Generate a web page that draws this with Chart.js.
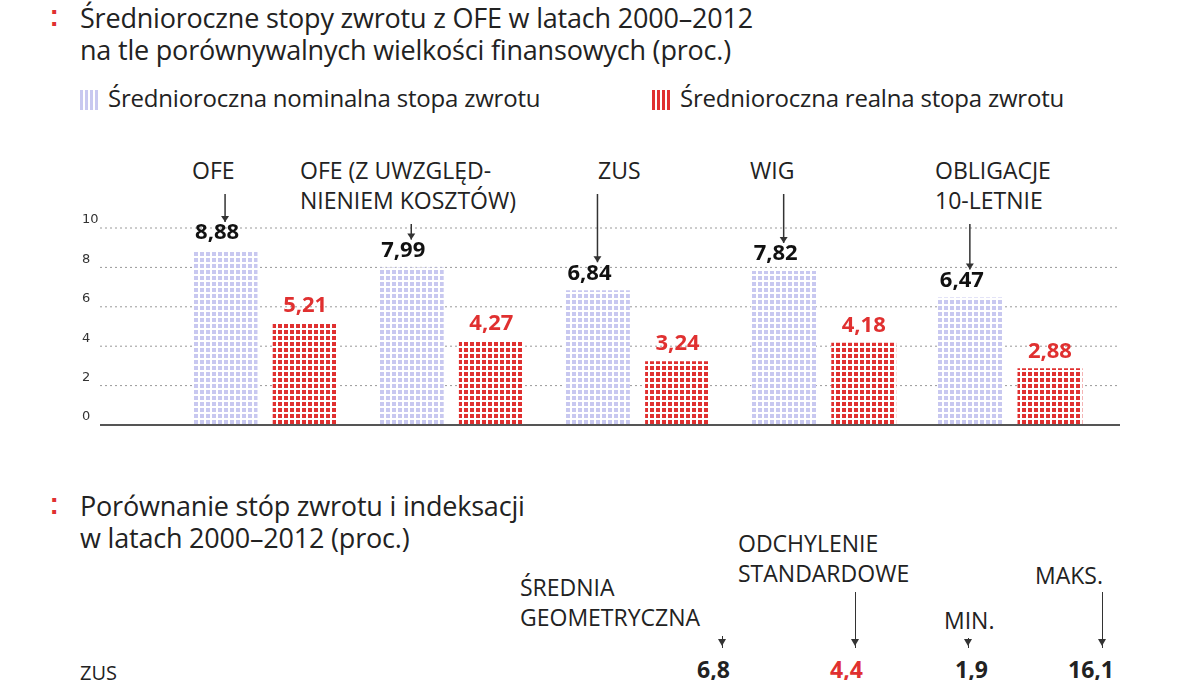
<!DOCTYPE html>
<html lang="pl">
<head>
<meta charset="utf-8">
<script src="https://cdn.jsdelivr.net/npm/chart.js"></script>
<style>
  body{margin:0;width:1200px;height:680px;overflow:hidden;background:#fff;font-family:"Open Sans","DejaVu Sans",sans-serif;color:#222;position:relative}
  .t{position:absolute;font-size:27px;line-height:32px;white-space:nowrap;letter-spacing:-0.2px}
  .mark{position:absolute;color:#e03030;font-size:22px;font-weight:bold}
  .cap{position:absolute;font-size:23px;line-height:30px;text-transform:uppercase;white-space:nowrap}
  .sw{display:inline-block;width:20px;height:20px;vertical-align:-3px;margin-right:8px}
  .ar{position:absolute;width:0;border-left:1.5px solid #333}
  .ar:after{content:"";position:absolute;left:-5px;bottom:-2px;border:4px solid transparent;border-top:7px solid #333}
  #wrap{position:absolute;left:80px;top:180px;width:1050px;height:260px}
</style>
</head>
<body>
<span class="mark" style="left:50px;top:2px">⁚</span>
<div class="t" style="left:80px;top:2px">Średnioroczne stopy zwrotu z OFE w latach 2000–2012<br>na tle porównywalnych wielkości finansowych (proc.)</div>
<div class="t" style="left:80px;top:82px;font-size:24px"><span class="sw" style="background:repeating-linear-gradient(90deg,#c8c8f0 0 3px,#fff 3px 5px)"></span>Średnioroczna nominalna stopa zwrotu</div>
<div class="t" style="left:652px;top:82px;font-size:24px"><span class="sw" style="background:repeating-linear-gradient(90deg,#e03030 0 3px,#fff 3px 5px)"></span>Średnioroczna realna stopa zwrotu</div>

<div class="cap" style="left:192px;top:155px">OFE</div>
<div class="cap" style="left:300px;top:155px">OFE (z uwzględ-<br>nieniem kosztów)</div>
<div class="cap" style="left:598px;top:155px">ZUS</div>
<div class="cap" style="left:750px;top:155px">WIG</div>
<div class="cap" style="left:935px;top:155px">Obligacje<br>10-letnie</div>

<div id="wrap"><canvas id="c"></canvas></div>

<span class="mark" style="left:50px;top:490px">⁚</span>
<div class="t" style="left:80px;top:490px">Porównanie stóp zwrotu i indeksacji<br>w latach 2000–2012 (proc.)</div>
<div class="cap" style="left:738px;top:528px">Odchylenie<br>standardowe</div>
<div class="cap" style="left:520px;top:572px">Średnia<br>geometryczna</div>
<div class="cap" style="left:1035px;top:560px">Maks.</div>
<div class="cap" style="left:944px;top:605px">Min.</div>
<div class="ar" style="left:722px;top:636px;height:12px"></div>
<div class="ar" style="left:855px;top:592px;height:56px"></div>
<div class="ar" style="left:968px;top:638px;height:10px"></div>
<div class="ar" style="left:1102px;top:592px;height:56px"></div>
<div class="cap" style="left:80px;top:658px;font-size:20px">ZUS</div>
<div class="cap" style="left:697px;top:654px;font-weight:bold">6,8</div>
<div class="cap" style="left:830px;top:654px;font-weight:bold;color:#e03030">4,4</div>
<div class="cap" style="left:955px;top:654px;font-weight:bold">1,9</div>
<div class="cap" style="left:1068px;top:654px;font-weight:bold">16,1</div>

<script>
const categories = ['OFE', 'OFE (z kosztami)', 'ZUS', 'WIG', 'Obligacje 10-letnie'];
const nominal = [8.88, 7.99, 6.84, 7.82, 6.47];
const real = [5.21, 4.27, 3.24, 4.18, 2.88];
const yTicks = [0, 2, 4, 6, 8, 10];
const labelLines = [1, 2, 1, 1, 2]; // lines of text in each group caption

function pattern(color) {
  const p = document.createElement('canvas');
  p.width = 6; p.height = 6;
  const g = p.getContext('2d');
  g.fillStyle = color; g.fillRect(0, 0, 6, 6);
  g.fillStyle = '#fff';
  g.fillRect(4, 0, 2, 6); g.fillRect(0, 4, 6, 2);
  return g.createPattern(p, 'repeat');
}

const fmt = (v) => v.toFixed(2).replace('.', ',');

const decor = {
  id: 'decor',
  beforeDatasetsDraw(chart) {
    const { ctx, scales: { y }, width } = chart;
    ctx.save();
    ctx.strokeStyle = '#999'; ctx.lineWidth = 1; ctx.setLineDash([2, 3]);
    ctx.font = '13px "DejaVu Sans"'; ctx.fillStyle = '#333'; ctx.textBaseline = 'middle';
    for (const t of yTicks) {
      const py = y.getPixelForValue(t);
      ctx.fillText(String(t), 2, py - 8);
      if (t === 0) continue;
      ctx.beginPath(); ctx.moveTo(20, py); ctx.lineTo(width - 10, py); ctx.stroke();
    }
    ctx.restore();
  },
  afterDatasetsDraw(chart) {
    const { ctx, scales: { y }, width } = chart;
    ctx.save();
    ctx.strokeStyle = '#555'; ctx.lineWidth = 2;
    const py0 = y.getPixelForValue(0);
    ctx.beginPath(); ctx.moveTo(20, py0); ctx.lineTo(width - 10, py0); ctx.stroke();
    ctx.font = 'bold 22px "Open Sans"'; ctx.textAlign = 'center'; ctx.textBaseline = 'bottom';
    chart.data.datasets.forEach((ds, di) => {
      chart.getDatasetMeta(di).data.forEach((bar, i) => {
        ctx.fillStyle = di === 0 ? '#111' : '#e03030';
        ctx.fillText(fmt(ds.data[i]), bar.x - (di === 0 ? 8 : 0), bar.y - 6);
      });
    });
    ctx.strokeStyle = '#333'; ctx.lineWidth = 1.5; ctx.fillStyle = '#333';
    chart.getDatasetMeta(0).data.forEach((bar, i) => {
      const top = labelLines[i] === 1 ? 14 : 44, bot = bar.y - 28;
      if (bot - top < 6) return;
      ctx.beginPath(); ctx.moveTo(bar.x, top); ctx.lineTo(bar.x, bot); ctx.stroke();
      ctx.beginPath(); ctx.moveTo(bar.x - 4, bot - 6); ctx.lineTo(bar.x + 4, bot - 6); ctx.lineTo(bar.x, bot); ctx.fill();
    });
    ctx.restore();
  }
};

new Chart(document.getElementById('c'), {
  type: 'bar',
  data: {
    labels: categories,
    datasets: [
      { label: 'Średnioroczna nominalna stopa zwrotu', data: nominal, backgroundColor: pattern('#c8c8f0') },
      { label: 'Średnioroczna realna stopa zwrotu', data: real, backgroundColor: pattern('#e03030') }
    ]
  },
  options: {
    responsive: true, maintainAspectRatio: false, animation: false,
    layout: { padding: { left: 92, right: 27, top: 48, bottom: 15 } },
    datasets: { bar: { categoryPercentage: 0.86, barPercentage: 0.81 } },
    plugins: { legend: { display: false }, tooltip: { enabled: false } },
    scales: {
      x: { display: false },
      y: { display: false, min: 0, max: 10 }
    }
  },
  plugins: [decor]
});
</script>
</body>
</html>
